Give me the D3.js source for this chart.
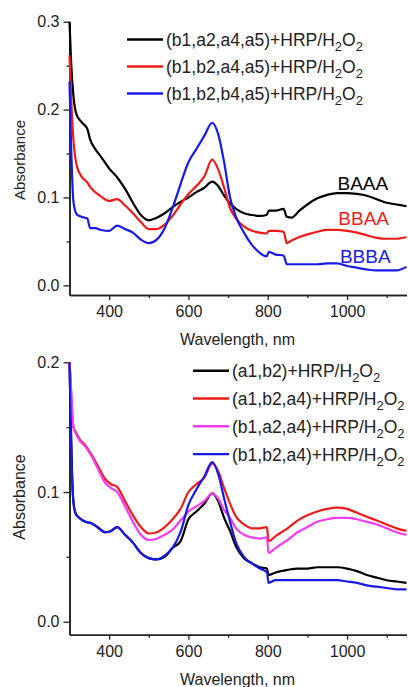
<!DOCTYPE html>
<html>
<head>
<meta charset="utf-8">
<script src="https://cdn.jsdelivr.net/npm/d3@7"></script>
<style>
  body { margin: 0; background: #fff; }
  svg { display: block; font-family: Arial, "Liberation Sans", sans-serif; }
</style>
</head>
<body>
<svg id="chart" width="408" height="687"></svg>
<script>
// ---- top panel data ----
var topNm = [300, 304, 310, 318, 330, 345, 352, 365, 380, 400, 420, 440, 460, 480, 500, 520, 540, 560, 580, 600,
  620, 640, 660, 675, 690, 705, 720, 740, 760, 780, 797, 803, 820, 840, 848, 860, 880, 900, 925, 950,
  975, 1000, 1025, 1050, 1075, 1100, 1125, 1150];
var baaa = [0.300, 0.255, 0.215, 0.194, 0.186, 0.178, 0.166, 0.155, 0.146, 0.133, 0.123, 0.110, 0.094, 0.080, 0.074, 0.077, 0.082, 0.089, 0.095, 0.100,
  0.106, 0.111, 0.118, 0.113, 0.102, 0.093, 0.087, 0.082, 0.080, 0.079, 0.080, 0.085, 0.085, 0.087, 0.078, 0.077, 0.085, 0.092, 0.099, 0.103,
  0.105, 0.105, 0.104, 0.102, 0.098, 0.094, 0.092, 0.090];
var bbaa = [0.262, 0.215, 0.165, 0.137, 0.124, 0.117, 0.112, 0.106, 0.101, 0.096, 0.098, 0.091, 0.082, 0.072, 0.064, 0.064, 0.069, 0.079, 0.092, 0.104,
  0.113, 0.124, 0.143, 0.132, 0.111, 0.088, 0.076, 0.067, 0.062, 0.060, 0.059, 0.062, 0.062, 0.061, 0.048, 0.051, 0.055, 0.058, 0.061, 0.063,
  0.063, 0.062, 0.060, 0.057, 0.054, 0.053, 0.053, 0.055];
var bbba = [0.232, 0.160, 0.095, 0.081, 0.078, 0.076, 0.065, 0.065, 0.063, 0.062, 0.068, 0.064, 0.060, 0.052, 0.048, 0.052, 0.065, 0.088, 0.115, 0.140,
  0.155, 0.170, 0.185, 0.172, 0.140, 0.100, 0.078, 0.060, 0.046, 0.037, 0.033, 0.038, 0.035, 0.034, 0.024, 0.024, 0.024, 0.024, 0.024, 0.025,
  0.025, 0.022, 0.020, 0.018, 0.017, 0.017, 0.017, 0.021];
var topLegend = ["(b1,a2,a4,a5)+HRP/H", "(b1,b2,a4,a5)+HRP/H", "(b1,b2,b4,a5)+HRP/H"];
var topTags = ["BAAA", "BBAA", "BBBA"];

// ---- bottom panel data ----
var botNm = [300, 303, 306, 310, 316, 325, 340, 355, 370, 390, 405, 420, 440, 460, 480, 500, 520, 540, 560, 580,
  600, 620, 640, 660, 675, 690, 705, 720, 740, 760, 780, 798, 802, 820, 850, 875, 900, 925, 950, 975,
  1000, 1025, 1050, 1075, 1100, 1125, 1150];
var a1b2 = [0.200, 0.160, 0.120, 0.092, 0.083, 0.080, 0.077, 0.076, 0.073, 0.069, 0.070, 0.073, 0.067, 0.061, 0.053, 0.049, 0.048, 0.050, 0.057, 0.062,
  0.079, 0.085, 0.091, 0.099, 0.093, 0.080, 0.070, 0.058, 0.049, 0.045, 0.042, 0.041, 0.036, 0.038, 0.040, 0.041, 0.041, 0.042, 0.042, 0.042,
  0.041, 0.039, 0.036, 0.034, 0.032, 0.031, 0.030];
var a1b2a4 = [0.200, 0.185, 0.165, 0.150, 0.146, 0.141, 0.136, 0.129, 0.121, 0.110, 0.106, 0.104, 0.093, 0.082, 0.073, 0.068, 0.069, 0.073, 0.079, 0.087,
  0.100, 0.106, 0.111, 0.122, 0.116, 0.103, 0.091, 0.081, 0.075, 0.072, 0.072, 0.073, 0.062, 0.066, 0.072, 0.078, 0.082, 0.085, 0.087, 0.088,
  0.087, 0.084, 0.081, 0.078, 0.075, 0.072, 0.070];
var b1a2a4 = [0.200, 0.185, 0.165, 0.150, 0.145, 0.140, 0.135, 0.128, 0.119, 0.107, 0.103, 0.100, 0.089, 0.077, 0.067, 0.063, 0.064, 0.067, 0.071, 0.078,
  0.085, 0.089, 0.093, 0.099, 0.095, 0.086, 0.080, 0.072, 0.067, 0.065, 0.064, 0.065, 0.053, 0.057, 0.063, 0.069, 0.073, 0.077, 0.079, 0.080,
  0.080, 0.079, 0.077, 0.075, 0.072, 0.069, 0.067];
var b1b2a4 = [0.200, 0.150, 0.115, 0.092, 0.083, 0.080, 0.077, 0.076, 0.073, 0.069, 0.070, 0.073, 0.067, 0.061, 0.053, 0.049, 0.048, 0.051, 0.057, 0.069,
  0.090, 0.102, 0.112, 0.123, 0.114, 0.095, 0.077, 0.061, 0.050, 0.045, 0.041, 0.038, 0.030, 0.032, 0.032, 0.032, 0.032, 0.032, 0.032, 0.032,
  0.031, 0.030, 0.028, 0.027, 0.026, 0.025, 0.025];
var botLegend = ["(a1,b2)+HRP/H", "(a1,b2,a4)+HRP/H", "(b1,a2,a4)+HRP/H", "(b1,b2,a4)+HRP/H"];

var xMajor = [400, 600, 800, 1000];
var xMinor = [500, 700, 900, 1100];

var RED = "#ee1b1b", BLUE = "#1818e8", MAGENTA = "#f23cf2";

var svg = d3.select("#chart");

function panel(opt) {
  var x = d3.scaleLinear().domain([300, 1150]).range([69.5, 406.5]);
  var y = d3.scaleLinear().domain(opt.yDomain).range(opt.yRange);
  var g = svg.append("g");

  // minor ticks first, then major with labels
  g.append("g").attr("transform", "translate(0," + opt.yRange[0] + ")")
    .call(d3.axisBottom(x).tickValues(xMinor).tickSize(3).tickFormat("").tickSizeOuter(0));
  g.append("g").attr("transform", "translate(0," + opt.yRange[0] + ")")
    .call(d3.axisBottom(x).tickValues(xMajor).tickSize(5).tickPadding(6).tickFormat(d3.format("d")).tickSizeOuter(0));
  g.append("g").attr("transform", "translate(69.5,0)")
    .call(d3.axisLeft(y).tickValues(opt.yMinor).tickSize(3).tickFormat("").tickSizeOuter(0));
  g.append("g").attr("transform", "translate(69.5,0)")
    .call(d3.axisLeft(y).tickValues(opt.yMajor).tickSize(6).tickPadding(4).tickFormat(d3.format(".1f")).tickSizeOuter(0));

  g.selectAll(".domain").attr("stroke", "#222").attr("stroke-width", 1.6);
  g.selectAll(".tick line").attr("stroke", "#222").attr("stroke-width", 1.3);
  g.selectAll(".tick text").attr("font-size", 16).attr("fill", "#222")
    .style("font-family", "Arial, 'Liberation Sans', sans-serif");

  var line = d3.line()
    .x(function(d) { return x(d[0]); })
    .y(function(d) { return y(d[1]); })
    .curve(d3.curveMonotoneX);

  opt.series.forEach(function(s) {
    var pts = opt.nm.map(function(n, i) { return [n, s.values[i]]; });
    g.append("path").datum(pts)
      .attr("d", line)
      .attr("fill", "none")
      .attr("stroke", s.color)
      .attr("stroke-width", 2.2)
      .attr("stroke-linejoin", "round");
  });

  // axis titles
  g.append("text")
    .attr("x", 237.5).attr("y", opt.xTitleY)
    .attr("text-anchor", "middle").attr("font-size", 16).attr("fill", "#222")
    .text("Wavelength, nm");
  g.append("text")
    .attr("transform", "translate(25," + opt.yTitleMid + ") rotate(-90)")
    .attr("text-anchor", "middle").attr("font-size", opt.yTitleSize).attr("fill", "#222")
    .text("Absorbance");

  // legend
  var lg = g.append("g");
  opt.series.forEach(function(s, i) {
    var cy = opt.legY + i * opt.legStep;
    lg.append("line")
      .attr("x1", opt.legX1).attr("x2", opt.legX2)
      .attr("y1", cy).attr("y2", cy)
      .attr("stroke", s.color).attr("stroke-width", 2.4);
    var t = lg.append("text")
      .attr("x", opt.legX2 + 3).attr("y", cy + 6.4)
      .attr("font-size", 17.5).attr("fill", "#222");
    t.append("tspan").text(s.label);
    t.append("tspan").attr("font-size", 13).attr("dy", 5).text("2");
    t.append("tspan").attr("dy", -5).text("O");
    t.append("tspan").attr("font-size", 13).attr("dy", 5).text("2");
  });
  return { x: x, y: y, g: g };
}

var topP = panel({
  yDomain: [-0.011, 0.3], yRange: [295, 21.7],
  yMajor: [0, 0.1, 0.2, 0.3], yMinor: [0.05, 0.15, 0.25],
  nm: topNm,
  series: [
    { values: baaa, color: "#000", label: topLegend[0] },
    { values: bbaa, color: RED, label: topLegend[1] },
    { values: bbba, color: BLUE, label: topLegend[2] }
  ],
  xTitleY: 344.5, yTitleMid: 160, yTitleSize: 15,
  legX1: 127, legX2: 163, legY: 39.5, legStep: 27
});

// curve tags at the right of the top panel
var tagNm = [976, 978, 982];
var tagVal = [0.1085, 0.069, 0.025];
var tagColor = ["#000", RED, BLUE];
topP.g.selectAll(".tag").data(topTags).enter().append("text")
  .attr("class", "tag")
  .attr("x", function(d, i) { return topP.x(tagNm[i]); })
  .attr("y", function(d, i) { return topP.y(tagVal[i]); })
  .attr("font-size", 19)
  .attr("fill", function(d, i) { return tagColor[i]; })
  .text(function(d) { return d; });

panel({
  yDomain: [-0.01, 0.2], yRange: [634.7, 362.3],
  yMajor: [0, 0.1, 0.2], yMinor: [0.05, 0.15],
  nm: botNm,
  series: [
    { values: a1b2, color: "#000", label: botLegend[0] },
    { values: a1b2a4, color: RED, label: botLegend[1] },
    { values: b1a2a4, color: MAGENTA, label: botLegend[2] },
    { values: b1b2a4, color: BLUE, label: botLegend[3] }
  ],
  xTitleY: 685, yTitleMid: 497, yTitleSize: 16,
  legX1: 193, legX2: 229, legY: 370.7, legStep: 27.8
});
</script>
</body>
</html>
